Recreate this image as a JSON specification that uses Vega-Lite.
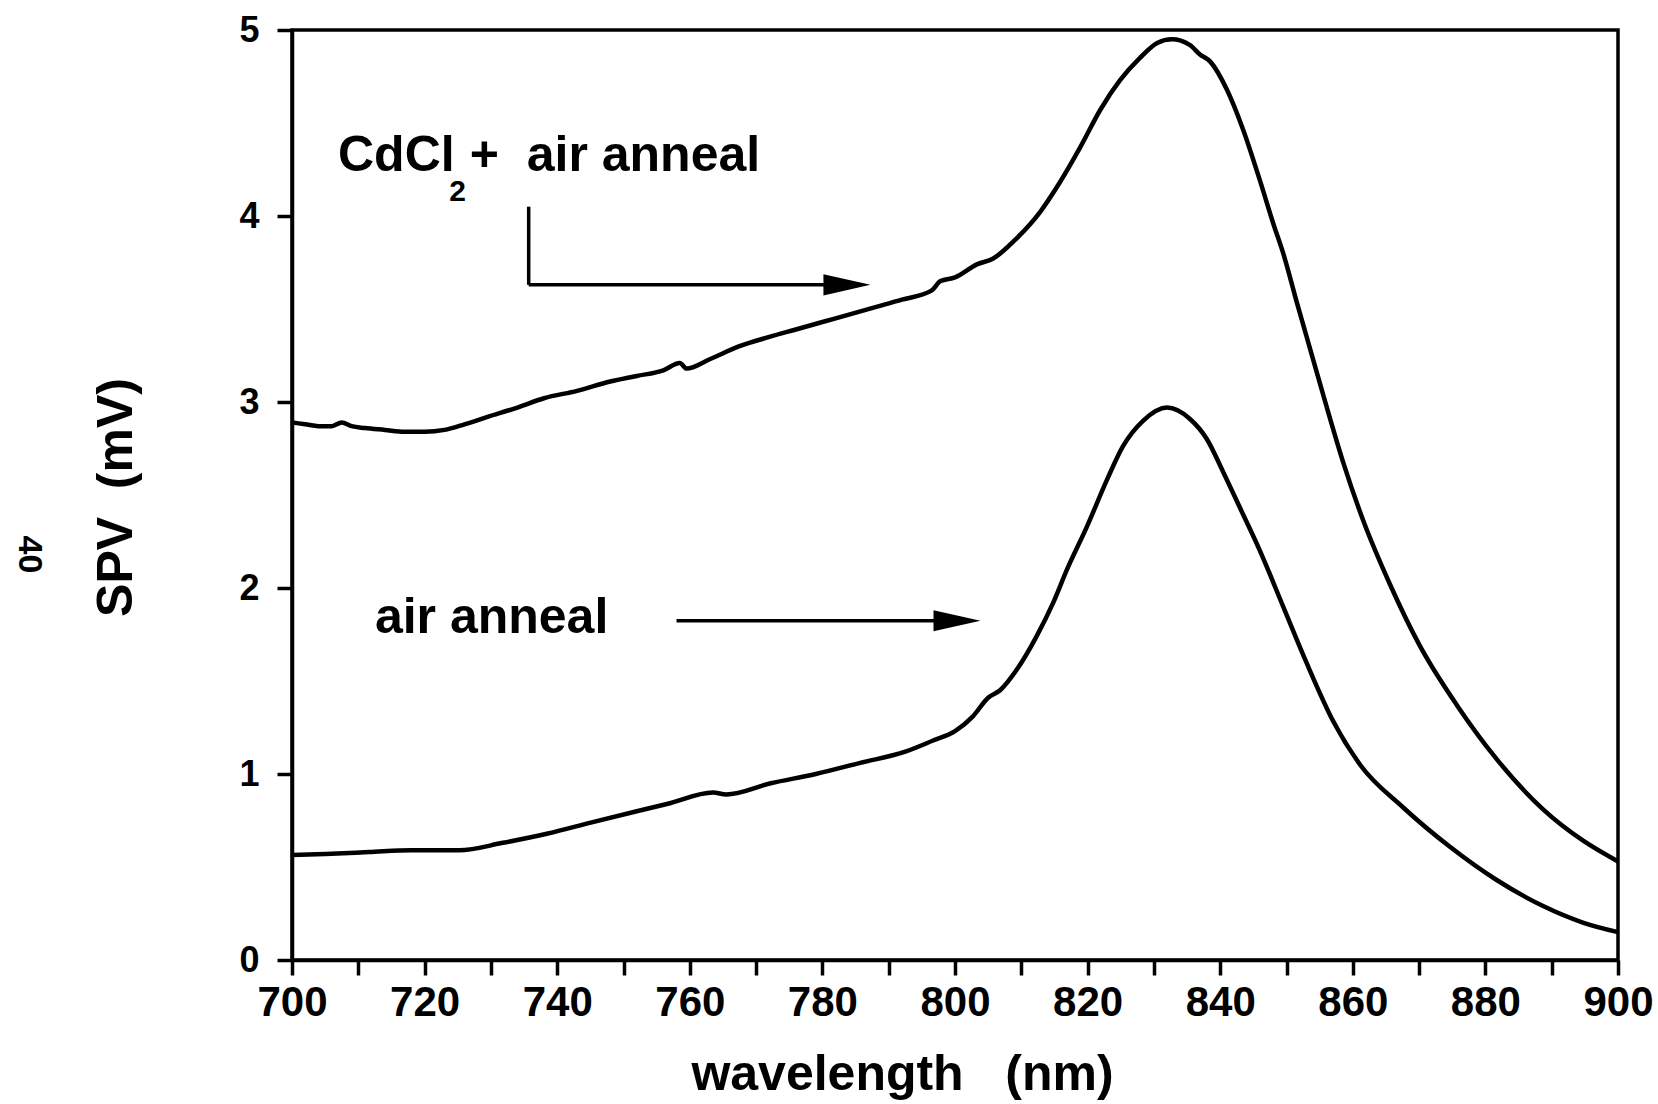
{
  "$schema": "https://vega.github.io/schema/vega-lite/v6.json",
  "width": 1326,
  "height": 930,
  "autosize": {"type": "none"},
  "padding": {"left": 292, "top": 30, "right": 40, "bottom": 144},
  "background": "white",
  "config": {
    "view": {"stroke": "black", "strokeWidth": 3.5},
    "axis": {"grid": false, "domainColor": "black", "tickColor": "black", "labelColor": "black", "titleColor": "black", "domainWidth": 3.5, "tickWidth": 3.5, "tickSize": 15, "labelFlush": false, "labelOverlap": false}
  },
  "datasets": {
    "curves": [
      {"series": "CdCl2 + air anneal", "wavelength": 700, "spv": 2.89},
      {"series": "CdCl2 + air anneal", "wavelength": 702, "spv": 2.88},
      {"series": "CdCl2 + air anneal", "wavelength": 704, "spv": 2.87},
      {"series": "CdCl2 + air anneal", "wavelength": 706, "spv": 2.87},
      {"series": "CdCl2 + air anneal", "wavelength": 707.5, "spv": 2.89},
      {"series": "CdCl2 + air anneal", "wavelength": 709, "spv": 2.87},
      {"series": "CdCl2 + air anneal", "wavelength": 711, "spv": 2.86},
      {"series": "CdCl2 + air anneal", "wavelength": 714, "spv": 2.85},
      {"series": "CdCl2 + air anneal", "wavelength": 717, "spv": 2.84},
      {"series": "CdCl2 + air anneal", "wavelength": 720, "spv": 2.84},
      {"series": "CdCl2 + air anneal", "wavelength": 723, "spv": 2.85},
      {"series": "CdCl2 + air anneal", "wavelength": 726, "spv": 2.88},
      {"series": "CdCl2 + air anneal", "wavelength": 729.5, "spv": 2.92},
      {"series": "CdCl2 + air anneal", "wavelength": 734, "spv": 2.97},
      {"series": "CdCl2 + air anneal", "wavelength": 738, "spv": 3.02},
      {"series": "CdCl2 + air anneal", "wavelength": 743, "spv": 3.06},
      {"series": "CdCl2 + air anneal", "wavelength": 748, "spv": 3.11},
      {"series": "CdCl2 + air anneal", "wavelength": 752, "spv": 3.14},
      {"series": "CdCl2 + air anneal", "wavelength": 756, "spv": 3.17},
      {"series": "CdCl2 + air anneal", "wavelength": 758.5, "spv": 3.21},
      {"series": "CdCl2 + air anneal", "wavelength": 759.5, "spv": 3.18},
      {"series": "CdCl2 + air anneal", "wavelength": 763, "spv": 3.23},
      {"series": "CdCl2 + air anneal", "wavelength": 767.5, "spv": 3.30},
      {"series": "CdCl2 + air anneal", "wavelength": 772, "spv": 3.35},
      {"series": "CdCl2 + air anneal", "wavelength": 776, "spv": 3.39},
      {"series": "CdCl2 + air anneal", "wavelength": 780, "spv": 3.43},
      {"series": "CdCl2 + air anneal", "wavelength": 784, "spv": 3.47},
      {"series": "CdCl2 + air anneal", "wavelength": 788, "spv": 3.51},
      {"series": "CdCl2 + air anneal", "wavelength": 792, "spv": 3.55},
      {"series": "CdCl2 + air anneal", "wavelength": 796.5, "spv": 3.60},
      {"series": "CdCl2 + air anneal", "wavelength": 797.8, "spv": 3.65},
      {"series": "CdCl2 + air anneal", "wavelength": 800, "spv": 3.67},
      {"series": "CdCl2 + air anneal", "wavelength": 803.3, "spv": 3.74},
      {"series": "CdCl2 + air anneal", "wavelength": 805.7, "spv": 3.77},
      {"series": "CdCl2 + air anneal", "wavelength": 809.3, "spv": 3.88},
      {"series": "CdCl2 + air anneal", "wavelength": 812.8, "spv": 4.02},
      {"series": "CdCl2 + air anneal", "wavelength": 815.8, "spv": 4.18},
      {"series": "CdCl2 + air anneal", "wavelength": 818.9, "spv": 4.37},
      {"series": "CdCl2 + air anneal", "wavelength": 821.9, "spv": 4.57},
      {"series": "CdCl2 + air anneal", "wavelength": 824.9, "spv": 4.73},
      {"series": "CdCl2 + air anneal", "wavelength": 827.9, "spv": 4.85},
      {"series": "CdCl2 + air anneal", "wavelength": 830.5, "spv": 4.93},
      {"series": "CdCl2 + air anneal", "wavelength": 832.7, "spv": 4.95},
      {"series": "CdCl2 + air anneal", "wavelength": 835.4, "spv": 4.92},
      {"series": "CdCl2 + air anneal", "wavelength": 836.9, "spv": 4.87},
      {"series": "CdCl2 + air anneal", "wavelength": 838.5, "spv": 4.83},
      {"series": "CdCl2 + air anneal", "wavelength": 841, "spv": 4.68},
      {"series": "CdCl2 + air anneal", "wavelength": 843.5, "spv": 4.46},
      {"series": "CdCl2 + air anneal", "wavelength": 846, "spv": 4.19},
      {"series": "CdCl2 + air anneal", "wavelength": 848, "spv": 3.96},
      {"series": "CdCl2 + air anneal", "wavelength": 849.5, "spv": 3.80},
      {"series": "CdCl2 + air anneal", "wavelength": 851.6, "spv": 3.53},
      {"series": "CdCl2 + air anneal", "wavelength": 855.6, "spv": 3.03},
      {"series": "CdCl2 + air anneal", "wavelength": 858.6, "spv": 2.67},
      {"series": "CdCl2 + air anneal", "wavelength": 861.6, "spv": 2.36},
      {"series": "CdCl2 + air anneal", "wavelength": 865.6, "spv": 2.02},
      {"series": "CdCl2 + air anneal", "wavelength": 870.1, "spv": 1.69},
      {"series": "CdCl2 + air anneal", "wavelength": 875.7, "spv": 1.37},
      {"series": "CdCl2 + air anneal", "wavelength": 881.7, "spv": 1.08},
      {"series": "CdCl2 + air anneal", "wavelength": 888.7, "spv": 0.81},
      {"series": "CdCl2 + air anneal", "wavelength": 894.8, "spv": 0.64},
      {"series": "CdCl2 + air anneal", "wavelength": 900, "spv": 0.53},
      {"series": "air anneal", "wavelength": 700, "spv": 0.565},
      {"series": "air anneal", "wavelength": 705, "spv": 0.57},
      {"series": "air anneal", "wavelength": 711.6, "spv": 0.58},
      {"series": "air anneal", "wavelength": 718, "spv": 0.59},
      {"series": "air anneal", "wavelength": 725.2, "spv": 0.59},
      {"series": "air anneal", "wavelength": 731.8, "spv": 0.63},
      {"series": "air anneal", "wavelength": 738.6, "spv": 0.68},
      {"series": "air anneal", "wavelength": 745.2, "spv": 0.74},
      {"series": "air anneal", "wavelength": 752, "spv": 0.80},
      {"series": "air anneal", "wavelength": 756.7, "spv": 0.84},
      {"series": "air anneal", "wavelength": 763.5, "spv": 0.90},
      {"series": "air anneal", "wavelength": 765.5, "spv": 0.89},
      {"series": "air anneal", "wavelength": 772.2, "spv": 0.95},
      {"series": "air anneal", "wavelength": 779, "spv": 1.00},
      {"series": "air anneal", "wavelength": 785.7, "spv": 1.06},
      {"series": "air anneal", "wavelength": 792.5, "spv": 1.12},
      {"series": "air anneal", "wavelength": 796.7, "spv": 1.18},
      {"series": "air anneal", "wavelength": 800, "spv": 1.23},
      {"series": "air anneal", "wavelength": 802.7, "spv": 1.31},
      {"series": "air anneal", "wavelength": 805, "spv": 1.41},
      {"series": "air anneal", "wavelength": 806.8, "spv": 1.45},
      {"series": "air anneal", "wavelength": 809.3, "spv": 1.56},
      {"series": "air anneal", "wavelength": 812.3, "spv": 1.74},
      {"series": "air anneal", "wavelength": 814.8, "spv": 1.92},
      {"series": "air anneal", "wavelength": 816.9, "spv": 2.10},
      {"series": "air anneal", "wavelength": 819.9, "spv": 2.33},
      {"series": "air anneal", "wavelength": 822.9, "spv": 2.58},
      {"series": "air anneal", "wavelength": 825.3, "spv": 2.76},
      {"series": "air anneal", "wavelength": 828.4, "spv": 2.90},
      {"series": "air anneal", "wavelength": 832, "spv": 2.97},
      {"series": "air anneal", "wavelength": 835.4, "spv": 2.91},
      {"series": "air anneal", "wavelength": 838, "spv": 2.80},
      {"series": "air anneal", "wavelength": 840.5, "spv": 2.62},
      {"series": "air anneal", "wavelength": 843, "spv": 2.43},
      {"series": "air anneal", "wavelength": 846, "spv": 2.20},
      {"series": "air anneal", "wavelength": 849.5, "spv": 1.90},
      {"series": "air anneal", "wavelength": 853, "spv": 1.60},
      {"series": "air anneal", "wavelength": 857.1, "spv": 1.28},
      {"series": "air anneal", "wavelength": 861.1, "spv": 1.05},
      {"series": "air anneal", "wavelength": 867.6, "spv": 0.82},
      {"series": "air anneal", "wavelength": 874.6, "spv": 0.61},
      {"series": "air anneal", "wavelength": 881.7, "spv": 0.43},
      {"series": "air anneal", "wavelength": 888.7, "spv": 0.29},
      {"series": "air anneal", "wavelength": 894.8, "spv": 0.20},
      {"series": "air anneal", "wavelength": 900, "spv": 0.15}
    ],
    "arrowLines": [
      {"x": 735.7, "y": 4.05, "x2": 735.7, "y2": 3.63},
      {"x": 735.7, "y": 3.63, "x2": 781, "y2": 3.63},
      {"x": 758, "y": 1.824, "x2": 797.5, "y2": 1.824}
    ],
    "arrowHeads": [
      {"x": 783.7, "y": 3.63},
      {"x": 800.3, "y": 1.824}
    ],
    "mainLabels": [
      {"text": "CdCl", "x": 706.94, "y": 4.242},
      {"text": "+", "x": 726.8, "y": 4.242},
      {"text": "air anneal", "x": 735.4, "y": 4.242},
      {"text": "air anneal", "x": 712.5, "y": 1.76}
    ],
    "subLabels": [
      {"text": "2", "x": 723.7, "y": 4.08}
    ],
    "stray": [
      {"text": "40", "x": 660.4, "y": 2.18}
    ]
  },
  "layer": [
    {
      "data": {"name": "curves"},
      "mark": {"type": "line", "color": "black", "strokeWidth": 4.5, "interpolate": "monotone"},
      "encoding": {
        "x": {"field": "wavelength", "type": "quantitative", "scale": {"domain": [700, 900], "nice": false, "zero": false},
          "axis": {
            "values": [700, 710, 720, 730, 740, 750, 760, 770, 780, 790, 800, 810, 820, 830, 840, 850, 860, 870, 880, 890, 900],
            "labelExpr": "datum.value % 20 == 0 ? datum.label : ''",
            "format": "d",
            "labelFont": "Liberation Sans",
            "labelFontWeight": "bold",
            "labelFontSize": 42,
            "labelPadding": 7,
            "title": "wavelength\u00a0\u00a0\u00a0(nm)",
            "titleFont": "Liberation Sans",
            "titleFontSize": 50,
            "titleFontWeight": "bold",
            "titleX": 610,
            "titleY": 129,
            "titleBaseline": "alphabetic",
            "titleAlign": "center"
          }
        },
        "y": {"field": "spv", "type": "quantitative", "scale": {"domain": [0, 5], "nice": false},
          "axis": {
            "values": [0, 1, 2, 3, 4, 5],
            "format": "d",
            "labelFont": "Liberation Sans",
            "labelFontWeight": "bold",
            "labelFontSize": 36,
            "labelPadding": 18,
            "title": "SPV\u00a0\u00a0(mV)",
            "titleFont": "Liberation Sans",
            "titleFontSize": 50,
            "titleFontWeight": "bold",
            "titleX": -161,
            "titleY": 467,
            "titleAngle": 270,
            "titleBaseline": "alphabetic",
            "titleAlign": "center"
          }
        },
        "detail": {"field": "series", "type": "nominal"}
      }
    },
    {
      "data": {"name": "arrowLines"},
      "mark": {"type": "rule", "color": "black", "strokeWidth": 3.5},
      "encoding": {
        "x": {"field": "x", "type": "quantitative"},
        "y": {"field": "y", "type": "quantitative"},
        "x2": {"field": "x2"},
        "y2": {"field": "y2"}
      }
    },
    {
      "data": {"name": "arrowHeads"},
      "mark": {"type": "point", "shape": "M-1,-0.45L1,0L-1,0.45Z", "size": 2209, "filled": true, "color": "black", "opacity": 1, "strokeWidth": 0},
      "encoding": {
        "x": {"field": "x", "type": "quantitative"},
        "y": {"field": "y", "type": "quantitative"}
      }
    },
    {
      "data": {"name": "mainLabels"},
      "mark": {"type": "text", "font": "Liberation Sans", "fontWeight": "bold", "fontSize": 50, "align": "left", "baseline": "alphabetic", "color": "black"},
      "encoding": {
        "x": {"field": "x", "type": "quantitative"},
        "y": {"field": "y", "type": "quantitative"},
        "text": {"field": "text"}
      }
    },
    {
      "data": {"name": "subLabels"},
      "mark": {"type": "text", "font": "Liberation Sans", "fontWeight": "bold", "fontSize": 30, "align": "left", "baseline": "alphabetic", "color": "black"},
      "encoding": {
        "x": {"field": "x", "type": "quantitative"},
        "y": {"field": "y", "type": "quantitative"},
        "text": {"field": "text"}
      }
    },
    {
      "data": {"name": "stray"},
      "mark": {"type": "text", "font": "Liberation Sans", "fontWeight": "bold", "fontSize": 34, "align": "center", "baseline": "middle", "angle": 90, "color": "black"},
      "encoding": {
        "x": {"field": "x", "type": "quantitative"},
        "y": {"field": "y", "type": "quantitative"},
        "text": {"field": "text"}
      }
    }
  ]
}
